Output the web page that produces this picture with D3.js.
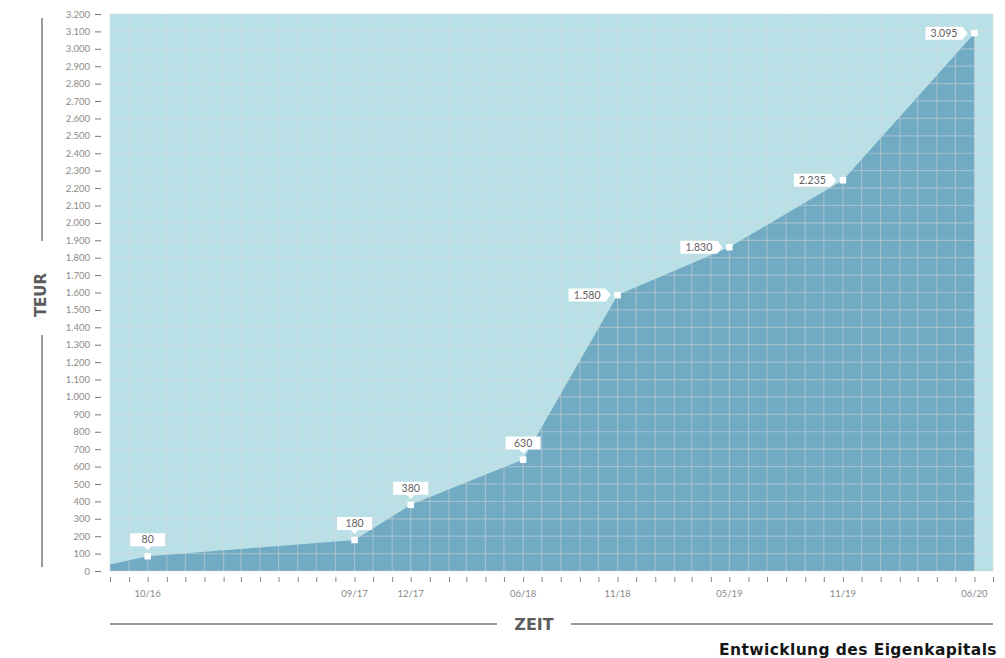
<!DOCTYPE html>
<html>
<head>
<meta charset="utf-8">
<script src="https://cdn.jsdelivr.net/npm/d3@7"></script>
<style>
  html, body { margin: 0; padding: 0; background: #ffffff; }
  svg { display: block; }
</style>
</head>
<body>
<svg id="chart" width="1005" height="658"></svg>
<script>
// ---- data ----
const pointDates = ["2016-08", "2016-10", "2017-09", "2017-12", "2018-06", "2018-11", "2019-05", "2019-11", "2020-06"];
const pointValues = [38, 85, 178, 380, 640, 1585, 1860, 2245, 3090];
const pointLabels = [null, "80", "180", "380", "630", "1.580", "1.830", "2.235", "3.095"];
const labelSide = [null, "top", "top", "top", "top", "left", "left", "left", "left"];
const xTickLabelDates = ["2016-10", "2017-09", "2017-12", "2018-06", "2018-11", "2019-05", "2019-11", "2020-06"];
const xTickLabels = ["10/16", "09/17", "12/17", "06/18", "11/18", "05/19", "11/19", "06/20"];
const yTicks = d3.range(0, 3201, 100);
const xDomain = ["2016-08", "2020-07"];
const yDomain = [0, 3200];
const yAxisTitle = "TEUR";
const xAxisTitle = "ZEIT";
const chartTitle = "Entwicklung des Eigenkapitals";

// ---- layout ----
const parse = d3.timeParse("%Y-%m");
const svg = d3.select("#chart");
const mLeft = 110, mRight = 993, mTop = 14, mBottom = 571;

const x = d3.scaleTime().domain(xDomain.map(parse)).range([mLeft, mRight]);
const y = d3.scaleLinear().domain(yDomain).range([mBottom, mTop]);

const data = pointDates.map((d, i) => ({ date: parse(d), value: pointValues[i], label: pointLabels[i], side: labelSide[i] }));

// background
svg.append("rect")
  .attr("x", mLeft).attr("y", mTop)
  .attr("width", mRight - mLeft).attr("height", mBottom - mTop)
  .attr("fill", "#b9e0e6");

// area
const area = d3.area()
  .x(d => x(d.date))
  .y0(y(0))
  .y1(d => y(d.value));
svg.append("path")
  .datum(data)
  .attr("d", area)
  .attr("fill", "#71abc3");

// grid
const months = d3.timeMonth.range(parse(xDomain[0]), d3.timeMonth.offset(parse(xDomain[1]), 1));
const grid = svg.append("g").attr("stroke", "#d6d6da").attr("stroke-opacity", 0.45).attr("stroke-width", 1.2);
grid.selectAll("line.h").data(yTicks).join("line")
  .attr("x1", mLeft).attr("x2", mRight)
  .attr("y1", d => y(d)).attr("y2", d => y(d));
grid.selectAll("line.v").data(months).join("line")
  .attr("y1", mTop).attr("y2", mBottom)
  .attr("x1", d => x(d)).attr("x2", d => x(d));

// y axis
const fmt = d3.formatLocale({ decimal: ",", thousands: ".", grouping: [3], currency: ["", "€"] }).format(",d");
const yAxis = d3.axisLeft(y).tickValues(yTicks).tickFormat(fmt).tickSize(6).tickPadding(5);
const yg = svg.append("g").attr("transform", `translate(${mLeft - 9},0)`).call(yAxis);
yg.select(".domain").remove();
yg.selectAll(".tick line").attr("stroke", "#777").attr("stroke-width", 1);
yg.selectAll(".tick text").attr("fill", "#8a8a8a").style("font-family", "Lato, sans-serif").style("font-size", "9.5px");

// x axis
const xAxis = d3.axisBottom(x).tickValues(months).tickFormat("").tickSize(5);
const xg = svg.append("g").attr("transform", `translate(0,${mBottom + 6})`).call(xAxis);
xg.select(".domain").remove();
xg.selectAll(".tick line").attr("stroke", "#888").attr("stroke-width", 1);

svg.append("g").selectAll("text").data(xTickLabelDates).join("text")
  .attr("x", d => x(parse(d)))
  .attr("y", 597)
  .attr("text-anchor", "middle")
  .attr("fill", "#8a8a8a")
  .style("font-family", "Lato, sans-serif")
  .style("font-size", "9.5px")
  .text((d, i) => xTickLabels[i]);

// axis titles & decoration lines
svg.append("line").attr("x1", 42).attr("x2", 42).attr("y1", 18).attr("y2", 241).attr("stroke", "#9a9a9a").attr("stroke-width", 2);
svg.append("line").attr("x1", 42).attr("x2", 42).attr("y1", 335).attr("y2", 567).attr("stroke", "#9a9a9a").attr("stroke-width", 2);
svg.append("text")
  .attr("transform", "translate(46,295) rotate(-90)")
  .attr("text-anchor", "middle")
  .attr("fill", "#5c5c5c")
  .style("font-family", "'DejaVu Sans', sans-serif")
  .style("font-weight", "bold")
  .style("font-size", "15px")
  .text(yAxisTitle);

svg.append("line").attr("x1", 110).attr("x2", 497).attr("y1", 624).attr("y2", 624).attr("stroke", "#9a9a9a").attr("stroke-width", 2);
svg.append("line").attr("x1", 571).attr("x2", 993).attr("y1", 624).attr("y2", 624).attr("stroke", "#9a9a9a").attr("stroke-width", 2);
svg.append("text")
  .attr("x", 534).attr("y", 630)
  .attr("text-anchor", "middle")
  .attr("fill", "#5c5c5c")
  .style("font-family", "'DejaVu Sans', sans-serif")
  .style("font-weight", "bold")
  .style("font-size", "16px")
  .text(xAxisTitle);

svg.append("text")
  .attr("x", 997).attr("y", 655)
  .attr("text-anchor", "end")
  .attr("fill", "#161616")
  .style("font-family", "'DejaVu Sans', sans-serif")
  .style("font-weight", "bold")
  .style("font-size", "15.5px")
  .style("letter-spacing", "0.4px")
  .text(chartTitle);

// callouts
const labeled = data.filter(d => d.label);
const cg = svg.append("g");
labeled.forEach(d => {
  const px = x(d.date), py = y(d.value);
  const g = cg.append("g");
  if (d.side === "top") {
    const w = 35, h = 13, bot = py - 10;
    g.append("path")
      .attr("d", `M${px - w / 2},${bot - h} h${w} v${h} H${px + 4} l-4,4 l-4,-4 H${px - w / 2} Z`)
      .attr("fill", "#ffffff");
    g.append("text")
      .attr("x", px).attr("y", bot - 3)
      .attr("text-anchor", "middle")
      .attr("fill", "#5e5e5e")
      .style("font-family", "Lato, sans-serif")
      .style("font-size", "10.5px")
      .text(d.label);
  } else {
    const w = 37, h = 13, r = px - 12;
    g.append("path")
      .attr("d", `M${r - w},${py - h / 2} H${r} l5,${h / 2} l-5,${h / 2} H${r - w} Z`)
      .attr("fill", "#ffffff");
    g.append("text")
      .attr("x", r - w / 2).attr("y", py + 4)
      .attr("text-anchor", "middle")
      .attr("fill", "#5e5e5e")
      .style("font-family", "Lato, sans-serif")
      .style("font-size", "10.5px")
      .text(d.label);
  }
  g.append("rect")
    .attr("x", px - 3.25).attr("y", py - 3.25)
    .attr("width", 6.5).attr("height", 6.5)
    .attr("fill", "#ffffff");
});
</script>
</body>
</html>
